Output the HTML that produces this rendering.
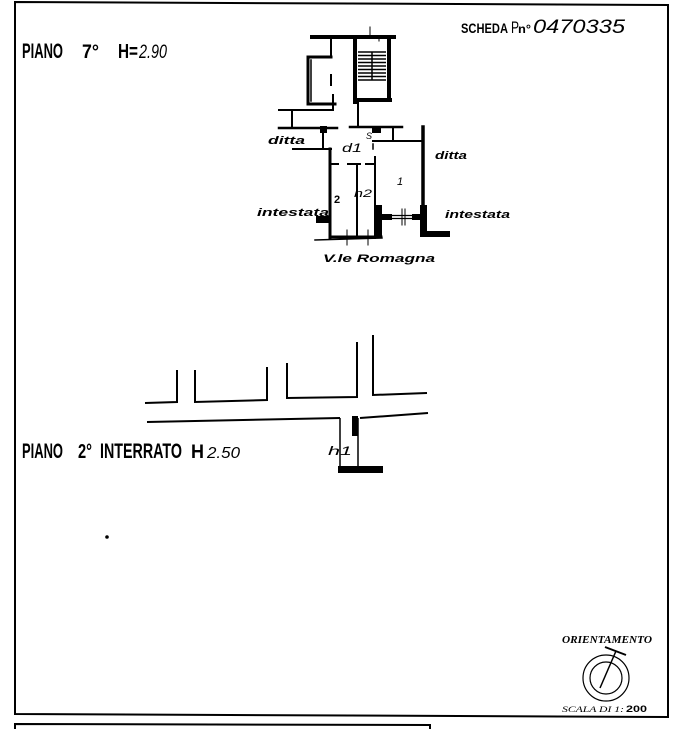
<!DOCTYPE html>
<html><head><meta charset="utf-8"><style>
html,body{margin:0;padding:0;background:#fff;}
svg{display:block;}
text{font-family:"Liberation Sans",sans-serif;fill:#000;}
.it{font-style:italic;}
</style></head><body>
<svg width="681" height="729" viewBox="0 0 681 729" xmlns="http://www.w3.org/2000/svg">
<rect x="0" y="0" width="681" height="729" fill="#fff"/>
<!-- frame -->
<path d="M15,2 L668,5 L668,717 L15,714 Z" stroke="#000" stroke-width="2" fill="none"/>
<path d="M15,729 L15,724 L430,725 L430,729" stroke="#000" stroke-width="2" fill="none"/>

<!-- headings -->
<text x="22" y="58" font-size="21" font-weight="bold" textLength="41" lengthAdjust="spacingAndGlyphs">PIANO</text>
<text x="82" y="58" font-size="19" font-weight="bold" textLength="17" lengthAdjust="spacingAndGlyphs">7°</text>
<text x="118" y="58" font-size="20" font-weight="bold" textLength="20" lengthAdjust="spacingAndGlyphs">H=</text>
<text x="139" y="58" font-size="19" class="it" textLength="28" lengthAdjust="spacingAndGlyphs">2.90</text>

<text x="461" y="33" font-size="14" font-weight="bold" textLength="47" lengthAdjust="spacingAndGlyphs">SCHEDA</text>
<text x="511" y="33" font-size="17" textLength="8" lengthAdjust="spacingAndGlyphs">P</text>
<text x="518" y="33" font-size="12" font-weight="bold" textLength="13" lengthAdjust="spacingAndGlyphs">n°</text>
<text x="533" y="33" font-size="19" class="it" textLength="92" lengthAdjust="spacingAndGlyphs">0470335</text>

<text x="22" y="458" font-size="21" font-weight="bold" textLength="41" lengthAdjust="spacingAndGlyphs">PIANO</text>
<text x="78" y="458" font-size="20" font-weight="bold" textLength="14" lengthAdjust="spacingAndGlyphs">2°</text>
<text x="100" y="458" font-size="21" font-weight="bold" textLength="82" lengthAdjust="spacingAndGlyphs">INTERRATO</text>
<text x="191" y="458" font-size="19" font-weight="bold" textLength="13" lengthAdjust="spacingAndGlyphs">H</text>
<text x="207" y="458" font-size="16" class="it" textLength="33" lengthAdjust="spacingAndGlyphs">2.50</text>

<!-- top plan -->
<g stroke="#000" fill="none" stroke-linecap="square">
  <line x1="312" y1="37" x2="394" y2="37" stroke-width="4"/>
  <line x1="331" y1="37" x2="331" y2="57" stroke-width="2"/>
  <path d="M331,57 L308,57 L308,104 L335,104" stroke-width="3"/>
  <line x1="311" y1="60" x2="311" y2="101" stroke-width="1.5"/>
  <line x1="331" y1="75" x2="331" y2="85" stroke-width="2"/>
  <line x1="333" y1="95" x2="333" y2="110" stroke-width="2"/>
  <line x1="279" y1="110" x2="333" y2="110" stroke-width="2"/>
  <line x1="292" y1="110" x2="292" y2="128" stroke-width="2"/>
  <line x1="279" y1="128" x2="337" y2="128" stroke-width="2.5"/>
  <line x1="323" y1="133" x2="323" y2="148" stroke-width="2"/>
  <line x1="293" y1="149" x2="331" y2="149" stroke-width="2"/>
  <line x1="330" y1="149" x2="330" y2="238" stroke-width="3"/>

  <!-- stairs -->
  <line x1="355" y1="37" x2="355" y2="102" stroke-width="4"/>
  <line x1="389" y1="37" x2="389" y2="100" stroke-width="4"/>
  <line x1="355" y1="100" x2="390" y2="100" stroke-width="4"/>
  <g stroke-width="1.5" stroke-linecap="butt">
    <line x1="358" y1="52" x2="386" y2="52"/>
    <line x1="358" y1="55.5" x2="386" y2="55.5"/>
    <line x1="358" y1="59" x2="386" y2="59"/>
    <line x1="358" y1="62.5" x2="386" y2="62.5"/>
    <line x1="358" y1="66" x2="386" y2="66"/>
    <line x1="358" y1="69.5" x2="386" y2="69.5"/>
    <line x1="358" y1="73" x2="386" y2="73"/>
    <line x1="358" y1="76.5" x2="386" y2="76.5"/>
    <line x1="358" y1="80" x2="386" y2="80"/>
    <line x1="372" y1="52" x2="372" y2="80"/>
  </g>
  <line x1="358" y1="102" x2="358" y2="127" stroke-width="2"/>
  <line x1="350" y1="127" x2="402" y2="127" stroke-width="2.5"/>
  <line x1="393" y1="127" x2="393" y2="141" stroke-width="2"/>
  <line x1="373" y1="141" x2="423" y2="141" stroke-width="2"/>
  <line x1="373" y1="144" x2="373" y2="149" stroke-width="1.5"/>
  <line x1="423" y1="127" x2="423" y2="233" stroke-width="3.5"/>
  <line x1="370" y1="27" x2="370" y2="37" stroke-width="1"/>
  <line x1="379" y1="37" x2="379" y2="41" stroke-width="1"/>

  <!-- inner corridor -->
  <line x1="332" y1="164" x2="338" y2="164" stroke-width="2"/>
  <line x1="348" y1="164" x2="360" y2="164" stroke-width="2"/>
  <line x1="366" y1="164" x2="375" y2="164" stroke-width="2"/>
  <line x1="357" y1="164" x2="357" y2="238" stroke-width="2"/>
  <line x1="375" y1="157" x2="375" y2="238" stroke-width="2"/>

  <!-- window -->
  <line x1="392" y1="215.5" x2="412" y2="215.5" stroke-width="1.2"/>
  <line x1="392" y1="218.5" x2="412" y2="218.5" stroke-width="1.2"/>
  <line x1="402" y1="209" x2="402" y2="225" stroke-width="1"/>
  <line x1="405" y1="209" x2="405" y2="225" stroke-width="1"/>

  <!-- bottom -->
  <line x1="315" y1="240" x2="382" y2="238" stroke-width="1.5"/>
  <line x1="330" y1="237" x2="381" y2="237" stroke-width="3"/>
  <line x1="347" y1="230" x2="347" y2="245" stroke-width="1"/>
  <line x1="368" y1="230" x2="368" y2="245" stroke-width="1"/>
</g>
<g fill="#000">
  <rect x="320" y="126" width="7" height="7"/>
  <rect x="372" y="126" width="9" height="7"/>
  <rect x="316" y="216" width="14" height="7"/>
  <rect x="376" y="205" width="6" height="33"/>
  <rect x="376" y="214" width="16" height="6"/>
  <rect x="412" y="214" width="11" height="6"/>
  <rect x="420" y="205" width="7" height="32"/>
  <rect x="421" y="231" width="29" height="6"/>
</g>
<!-- top plan labels -->
<text x="268" y="144" font-size="11" class="it" font-weight="bold" textLength="37" lengthAdjust="spacingAndGlyphs">ditta</text>
<text x="342" y="152" font-size="12" class="it" textLength="20" lengthAdjust="spacingAndGlyphs">d1</text>
<text x="366" y="139" font-size="9" class="it">S</text>
<text x="334" y="203" font-size="11" font-weight="bold">2</text>
<text x="354" y="197" font-size="11" class="it" textLength="18" lengthAdjust="spacingAndGlyphs">h2</text>
<text x="397" y="185" font-size="11" class="it">1</text>
<text x="435" y="159" font-size="11" class="it" font-weight="bold" textLength="32" lengthAdjust="spacingAndGlyphs">ditta</text>
<text x="257" y="216" font-size="11" class="it" font-weight="bold" textLength="72" lengthAdjust="spacingAndGlyphs">intestata</text>
<text x="445" y="218" font-size="11" class="it" font-weight="bold" textLength="65" lengthAdjust="spacingAndGlyphs">intestata</text>
<text x="323" y="262" font-size="11" class="it" font-weight="bold" textLength="112" lengthAdjust="spacingAndGlyphs">V.le Romagna</text>

<!-- basement plan -->
<g stroke="#000" fill="none" stroke-width="2">
  <path d="M145,403 L177,402 L177,370"/>
  <path d="M195,370 L195,402 L267,400 L267,367"/>
  <path d="M287,363 L287,398 L357,397 L357,342"/>
  <path d="M373,335 L373,395 L427,393"/>
  <line x1="147" y1="422" x2="340" y2="418"/>
  <line x1="360" y1="418" x2="428" y2="413"/>
  <line x1="340" y1="418" x2="340" y2="467" stroke-width="1.5"/>
  <line x1="358" y1="418" x2="358" y2="467" stroke-width="1.5"/>
</g>
<rect x="352" y="416" width="6" height="20" fill="#000"/>
<rect x="338" y="466" width="45" height="7" fill="#000"/>
<text x="328" y="455" font-size="12" class="it" textLength="24" lengthAdjust="spacingAndGlyphs">h1</text>

<circle cx="107" cy="537" r="1.8" fill="#000"/>

<!-- orientation -->
<text x="562" y="643" font-size="10" font-weight="bold" font-style="italic" textLength="90" lengthAdjust="spacingAndGlyphs" style="font-family:'Liberation Serif',serif">ORIENTAMENTO</text>
<circle cx="606" cy="678" r="23" stroke="#000" stroke-width="1.2" fill="none"/>
<circle cx="606" cy="678" r="16" stroke="#000" stroke-width="1.2" fill="none"/>
<line x1="600" y1="688" x2="616" y2="651" stroke="#000" stroke-width="1.5"/>
<line x1="605" y1="647" x2="626" y2="655" stroke="#000" stroke-width="2"/>
<text x="562" y="712" font-size="8" font-style="italic" textLength="62" lengthAdjust="spacingAndGlyphs" style="font-family:'Liberation Serif',serif">SCALA DI 1:</text>
<text x="626" y="712" font-size="9" font-weight="bold" textLength="21" lengthAdjust="spacingAndGlyphs">200</text>
</svg>
</body></html>
